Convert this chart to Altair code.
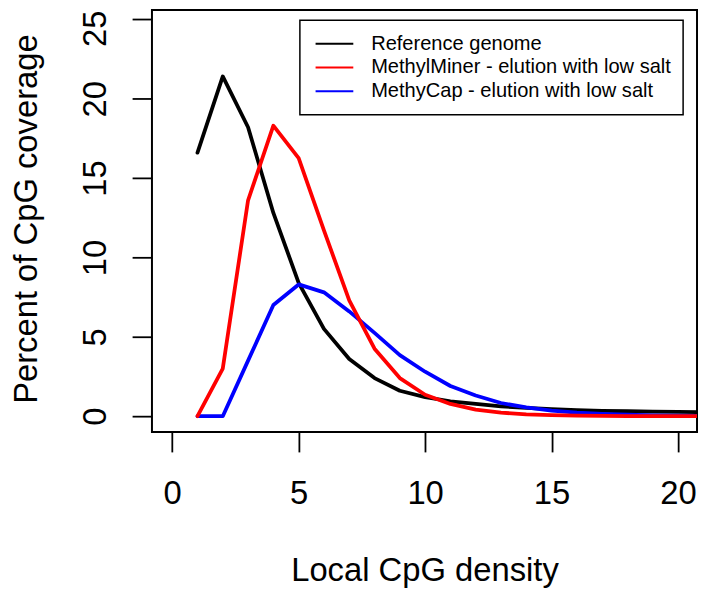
import altair as alt
import pandas as pd

# Local CpG density (x) and percent of CpG coverage per series
density = list(range(1, 22))
reference = [16.6, 21.4, 18.2, 12.8, 8.4, 5.5, 3.6, 2.4, 1.6, 1.2, 0.94,
             0.77, 0.62, 0.52, 0.44, 0.38, 0.34, 0.31, 0.29, 0.27, 0.25]
methylminer = [0.0, 3.0, 13.6, 18.3, 16.25, 11.7, 7.3, 4.25, 2.4, 1.35, 0.77,
               0.41, 0.22, 0.12, 0.06, 0.03, 0.02, 0.01, 0.01, 0.0, 0.0]
methycap = [0.0, 0.0, 3.5, 7.0, 8.3, 7.8, 6.6, 5.25, 3.85, 2.8, 1.9,
            1.3, 0.83, 0.55, 0.35, 0.22, 0.14, 0.09, 0.05, 0.03, 0.02]

series_names = ["Reference genome",
                "MethylMiner - elution with low salt",
                "MethyCap - elution with low salt"]
series_colors = ["#000000", "#FF0000", "#0000FF"]
x_ticks = [0, 5, 10, 15, 20]
y_ticks = [0, 5, 10, 15, 20, 25]

rows = []
# drawing order: reference, MethyCap, MethylMiner (red on top)
for name, vals in [(series_names[0], reference),
                   (series_names[2], methycap),
                   (series_names[1], methylminer)]:
    for xv, yv in zip(density, vals):
        rows.append({"density": xv, "pct": yv, "series": name})
df = pd.DataFrame(rows)

FONT = "Liberation Sans"

chart = alt.Chart(df).mark_line(
    strokeWidth=3.8, clip=True, strokeJoin="round", strokeCap="round"
).encode(
    x=alt.X("density:Q",
            scale=alt.Scale(domain=[-0.8, 20.75], nice=False, zero=False),
            axis=alt.Axis(values=x_ticks, title="Local CpG density",
                          grid=False, domain=False, tickSize=20, tickWidth=1.8,
                          tickColor="black", labelFontSize=33, labelFont=FONT,
                          labelColor="black", labelBaseline="alphabetic",
                          labelPadding=52, labelFlush=False, labelOverlap=False,
                          titleFontSize=33, titleFont=FONT, titleColor="black",
                          titleFontWeight="normal", titleBaseline="alphabetic",
                          titleY=150)),
    y=alt.Y("pct:Q",
            scale=alt.Scale(domain=[-1.0, 25.58], nice=False, zero=False),
            axis=alt.Axis(values=y_ticks, title="Percent of CpG coverage",
                          grid=False, domain=False, tickSize=20, tickWidth=1.8,
                          tickColor="black", labelFontSize=33, labelFont=FONT,
                          labelColor="black", labelAngle=270, labelAlign="center",
                          labelBaseline="alphabetic", labelPadding=27,
                          labelOffset={"condition": {"test": "datum.value == 25",
                                                     "value": 9},
                                       "value": 0},
                          labelFlush=False, labelOverlap=False,
                          titleFontSize=33, titleFont=FONT, titleColor="black",
                          titleFontWeight="normal", titleAngle=270,
                          titleAlign="center", titleBaseline="alphabetic",
                          titleX=-116, titleY=210)),
    color=alt.Color("series:N",
                    scale=alt.Scale(domain=series_names, range=series_colors),
                    legend=alt.Legend(title=None, orient="none",
                                      legendX=149, legendY=10.3,
                                      strokeColor="black", fillColor="white",
                                      padding=11.5, symbolType="stroke",
                                      symbolSize=1444, symbolStrokeWidth=2,
                                      clipHeight=24, rowPadding=0,
                                      labelFontSize=20.2, labelFont=FONT,
                                      labelColor="black", labelOffset=17,
                                      symbolOffset=3.3, labelLimit=600)),
).properties(
    width=549, height=425,
    autosize=alt.AutoSizeParams(type="none"),
    padding={"left": 145, "top": 0, "right": 2, "bottom": 161},
).configure_view(
    stroke="black", strokeWidth=2
).configure_legend(
    strokeWidth=1.5
)

chart.save("out.html", embed_options={"renderer": "svg", "actions": False})
